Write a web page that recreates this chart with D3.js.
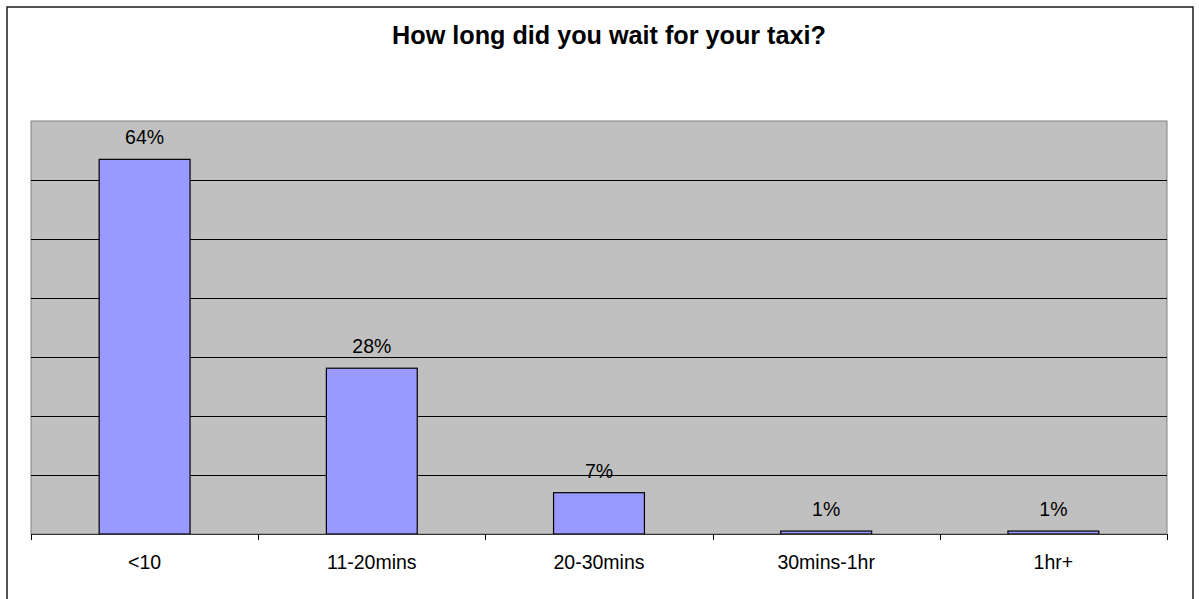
<!DOCTYPE html>
<html><head><meta charset="utf-8">
<script src="https://cdn.jsdelivr.net/npm/d3@7"></script>
<style>
html,body{margin:0;padding:0;background:#fff;}
svg{display:block;font-family:"Liberation Sans",Arial,sans-serif;}
</style></head>
<body>
<svg id="chart" width="1199" height="599"></svg>
<script>
const title = "How long did you wait for your taxi?";
const categories = ["<10", "11-20mins", "20-30mins", "30mins-1hr", "1hr+"];
const values = [0.635, 0.281, 0.070, 0.005, 0.005];
const valueLabels = ["64%", "28%", "7%", "1%", "1%"];
const yTicks = [0, 0.1, 0.2, 0.3, 0.4, 0.5, 0.6, 0.7];

const svg = d3.select("#chart");
const plot = {left: 31, right: 1167, top: 121, bottom: 534};

// outer chart border
svg.append("rect").attr("x", 7).attr("y", 7).attr("width", 1186).attr("height", 620)
  .attr("fill", "#fff").attr("stroke", "#1a1a1a").attr("stroke-width", 1.5);

svg.append("text").attr("x", 609).attr("y", 44).attr("text-anchor", "middle")
  .attr("font-size", 25.2).attr("font-weight", "bold").attr("fill", "#000").text(title);

const x = d3.scaleBand().domain(categories).range([plot.left, plot.right])
  .paddingInner(0.6).paddingOuter(0.3);
const y = d3.scaleLinear().domain([0, 0.7]).range([plot.bottom, plot.top]);

svg.append("rect").attr("x", plot.left).attr("y", plot.top)
  .attr("width", plot.right - plot.left).attr("height", plot.bottom - plot.top)
  .attr("fill", "#c0c0c0").attr("stroke", "#808080").attr("stroke-width", 1);

svg.append("g").selectAll("line").data(yTicks.filter(d => d > 0 && d < 0.7)).join("line")
  .attr("x1", plot.left).attr("x2", plot.right)
  .attr("y1", d => Math.round(y(d)) + 0.5).attr("y2", d => Math.round(y(d)) + 0.5)
  .attr("stroke", "#000").attr("stroke-width", 1);

svg.append("g").selectAll("rect").data(values).join("rect")
  .attr("x", (d, i) => x(categories[i]))
  .attr("y", d => y(d))
  .attr("width", x.bandwidth())
  .attr("height", d => y(0) - y(d))
  .attr("fill", "#9999ff").attr("stroke", "#000").attr("stroke-width", 1.2);

svg.append("g").selectAll("text").data(values).join("text")
  .attr("x", (d, i) => x(categories[i]) + x.bandwidth() / 2)
  .attr("y", d => y(d) - 15)
  .attr("text-anchor", "middle").attr("font-size", 19.5).attr("fill", "#000")
  .text((d, i) => valueLabels[i]);

// category axis
const boundaries = d3.range(categories.length + 1).map(i => plot.left + i * x.step());
svg.append("line").attr("x1", plot.left).attr("x2", plot.right)
  .attr("y1", plot.bottom + 0.5).attr("y2", plot.bottom + 0.5)
  .attr("stroke", "#333").attr("stroke-width", 1.2);
svg.append("g").selectAll("line").data(boundaries).join("line")
  .attr("x1", d => Math.round(d) + 0.5).attr("x2", d => Math.round(d) + 0.5)
  .attr("y1", plot.bottom).attr("y2", plot.bottom + 6)
  .attr("stroke", "#000").attr("stroke-width", 1);
svg.append("g").selectAll("text").data(categories).join("text")
  .attr("x", d => x(d) + x.bandwidth() / 2)
  .attr("y", plot.bottom + 35)
  .attr("text-anchor", "middle").attr("font-size", 19.5).attr("fill", "#000")
  .text(d => d);
</script>
</body></html>
